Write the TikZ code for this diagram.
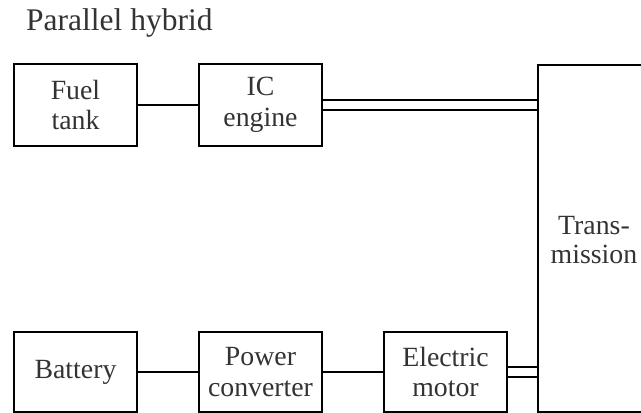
\documentclass[tikz,border=0pt]{standalone}
\usepackage{fontspec}
\setmainfont{Liberation Serif}
\begin{document}
\begin{tikzpicture}[x=1pt,y=-1pt,
  blk/.style={draw, line width=1.3pt, inner sep=0pt, align=center,
    font=\fontsize{27.8}{30.5}\selectfont, text=black!80},
  lbl/.style={inner sep=0pt, align=center, font=\fontsize{27.8}{29}\selectfont, text=black!80},
  conn/.style={line width=1.3pt}]
\useasboundingbox (0,0) rectangle (641,413);
\clip (0,0) rectangle (641,413);
\node[lbl, anchor=base west, font=\fontsize{31.5}{33}\selectfont] (title) at (26,30) {Parallel hybrid};
\node[blk, minimum width=123, minimum height=82] (fuel) at (75.5,105) {Fuel\\tank};
\node[blk, minimum width=123, minimum height=82] (ice) at (260.5,105) {IC\\engine};
\node[blk, minimum width=123, minimum height=80] (bat) at (75.5,372) {Battery};
\node[blk, minimum width=123, minimum height=80] (pc) at (260.5,372) {Power\\converter};
\node[blk, minimum width=123, minimum height=80] (em) at (445.5,372) {Electric\\motor};
\node[blk, minimum width=130, minimum height=347] (trans) at (603,238.5) {};
\node[lbl] (translbl) at (594,240) {Trans-\\mission};
\draw[conn] (fuel.east) -- (ice.west);
\draw[conn] (bat.east) -- (pc.west);
\draw[conn] (pc.west -| pc.east) -- (em.west);
\draw[conn] ([yshift=5pt]ice.east) -- ([yshift=5pt]ice.east -| trans.west);
\draw[conn] ([yshift=-5pt]ice.east) -- ([yshift=-5pt]ice.east -| trans.west);
\draw[conn] ([yshift=5pt]em.east) -- ([yshift=5pt]em.east -| trans.west);
\draw[conn] ([yshift=-5pt]em.east) -- ([yshift=-5pt]em.east -| trans.west);
\end{tikzpicture}
\end{document}
